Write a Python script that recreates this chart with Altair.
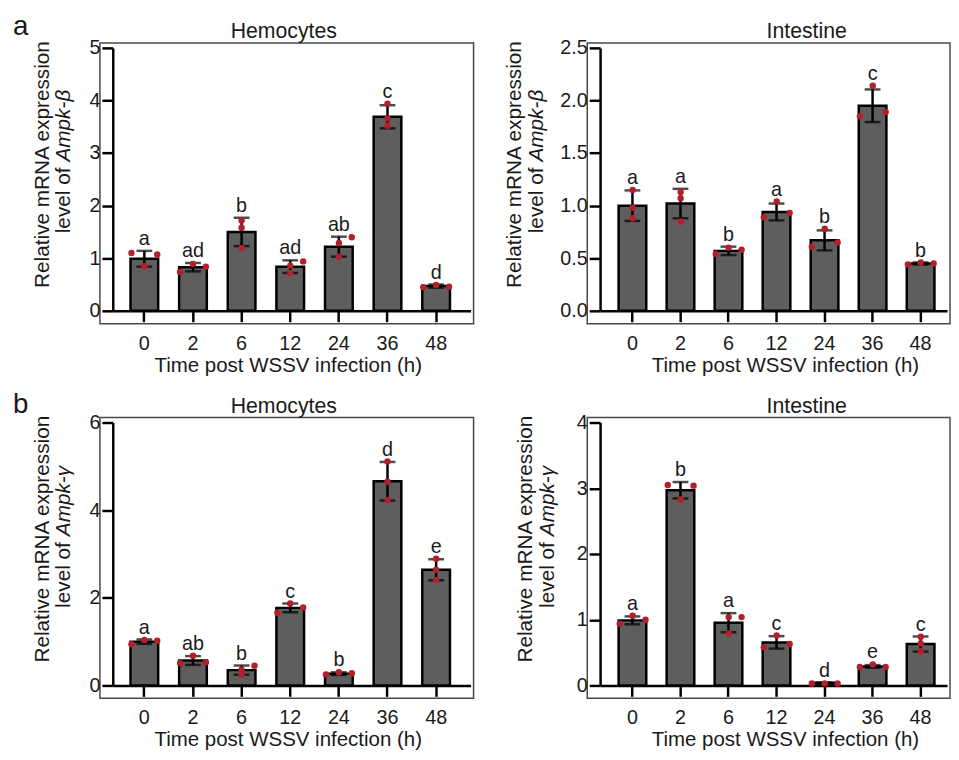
import altair as alt
import pandas as pd

FONT = "Liberation Sans"
TIMES = ["0", "2", "6", "12", "24", "36", "48"]

# ---- panel a, Hemocytes (Ampk-beta)
A_HEMO_MEAN = [0.99, 0.83, 1.50, 0.84, 1.22, 3.69, 0.47]
A_HEMO_SD = [0.15, 0.08, 0.27, 0.12, 0.19, 0.22, 0.03]
A_HEMO_PTS = [[1.10, 0.85, 1.07], [0.74, 0.89, 0.84], [1.72, 1.58, 1.19], [0.86, 0.72, 0.94],
              [1.29, 1.03, 1.40], [3.94, 3.66, 3.52], [0.45, 0.49, 0.46]]
A_HEMO_SIDE = ["LCR", "LCR", "CCC", "CCR", "CCR", "CCC", "LCR"]
A_HEMO_LET = ["a", "ad", "b", "ad", "ab", "c", "d"]

# ---- panel a, Intestine (Ampk-beta)
A_INT_MEAN = [1.00, 1.02, 0.57, 0.94, 0.67, 1.95, 0.45]
A_INT_SD = [0.145, 0.14, 0.04, 0.08, 0.095, 0.155, 0.01]
A_INT_PTS = [[1.15, 0.98, 0.88], [1.13, 1.07, 0.85], [0.54, 0.60, 0.58], [0.89, 1.04, 0.93],
             [0.61, 0.78, 0.65], [1.85, 2.14, 1.89], [0.44, 0.46, 0.45]]
A_INT_SIDE = ["CCC", "CCC", "LCR", "LCR", "LCR", "LCR", "LCR"]
A_INT_LET = ["a", "a", "b", "a", "b", "c", "b"]

# ---- panel b, Hemocytes (Ampk-gamma)
B_HEMO_MEAN = [1.00, 0.57, 0.35, 1.77, 0.27, 4.66, 2.64]
B_HEMO_SD = [0.05, 0.10, 0.105, 0.10, 0.03, 0.44, 0.24]
B_HEMO_PTS = [[0.94, 1.04, 1.02], [0.51, 0.68, 0.53], [0.36, 0.25, 0.45], [1.66, 1.87, 1.78],
              [0.25, 0.30, 0.28], [5.11, 4.65, 4.23], [2.89, 2.64, 2.41]]
B_HEMO_SIDE = ["LCR", "LCR", "CCR", "LCR", "LCR", "CCC", "CCC"]
B_HEMO_LET = ["a", "ab", "b", "c", "b", "d", "e"]

# ---- panel b, Intestine (Ampk-gamma)
B_INT_MEAN = [0.99, 2.97, 0.955, 0.655, 0.04, 0.29, 0.63]
B_INT_SD = [0.06, 0.125, 0.145, 0.095, 0.005, 0.02, 0.115]
B_INT_PTS = [[0.94, 1.06, 1.00], [3.05, 2.83, 3.04], [1.04, 0.79, 1.04], [0.58, 0.76, 0.63],
             [0.03, 0.03, 0.03], [0.28, 0.32, 0.28], [0.74, 0.64, 0.52]]
B_INT_SIDE = ["LCR", "LCR", "CCR", "LCR", "LCR", "LCR", "CCC"]
B_INT_LET = ["a", "b", "a", "c", "d", "e", "c"]

Y_LINE1 = "Relative mRNA expression"
Y_LINE2 = "level of"
GENES = ["Ampk-β", "Ampk-γ"]
TISSUES = ["Hemocytes", "Intestine"]
X_TITLE = "Time post WSSV infection (h)"

BAR_FILL = "#5e5e5e"
DOT = "#b3202a"
TXT = "#1a1a1a"
H = 284
TITLE_CY = 123
WORD_GAP = 6


def panel(title, mean, sd, pts, sides, letters, ymax, yvals, yfmt, gene,
          width, pad_outer, align, t1x, t2x, title_x, xtitle_x, tag=None, tag_y=-16):
    bars = pd.DataFrame({"t": TIMES, "mean": mean, "sd": sd, "letter": letters})
    bars["lo"] = bars["mean"] - bars["sd"]
    bars["hi"] = bars["mean"] + bars["sd"]
    bars["ltop"] = [max(h, max(p)) for h, p in zip(bars["hi"], pts)]
    rows = []
    for t, ps, ss in zip(TIMES, pts, sides):
        for v, s in zip(ps, ss):
            rows.append({"t": t, "v": v, "side": s})
    pdf = pd.DataFrame(rows)

    xaxis = alt.Axis(title=X_TITLE, labelAngle=0, offset=-13, labelPadding=12,
                     titlePadding=2, titleX=xtitle_x, titleFontSize=20.7)
    x = alt.X("t:N", sort=TIMES, axis=xaxis,
              scale=alt.Scale(range=[13, width - 3], paddingInner=0.39,
                              paddingOuter=pad_outer, align=align))
    yaxis = alt.Axis(title=None, values=yvals, format=yfmt, offset=-13, labelPadding=2)
    yscale = alt.Scale(domain=[0, ymax], range=[H - 13, 5], nice=False, zero=True)

    def Y(f):
        return alt.Y(f, type="quantitative", scale=yscale, axis=yaxis)

    bar = alt.Chart(bars).mark_bar(color=BAR_FILL, stroke="black", strokeWidth=2.5,
                                   width=28).encode(x=x, y=Y("mean"))
    rule = alt.Chart(bars).mark_rule(color="black", strokeWidth=2.5).encode(
        x=x, y=Y("lo"), y2="hi")
    cap_hi = alt.Chart(bars).mark_tick(color="black", size=16, thickness=2.5).encode(
        x=x, y=Y("hi"))
    cap_lo = alt.Chart(bars).mark_tick(color="black", size=16, thickness=2.5).encode(
        x=x, y=Y("lo"))
    dots = alt.Chart(pdf).mark_circle(color=DOT, size=42, opacity=1).encode(
        x=x, y=Y("v"),
        xOffset=alt.XOffset("side:N", scale=alt.Scale(type="point", domain=["L", "C", "R"],
                                                      padding=0.15)))
    lets = alt.Chart(bars).mark_text(font=FONT, fontSize=20, baseline="alphabetic",
                                     dy=-6, color=TXT).encode(
        x=x, y=Y("ltop"), text="letter:N")

    def label(s, **kw):
        return alt.Chart(pd.DataFrame({"s": [s]})).mark_text(font=FONT, color=TXT, **kw)

    t1 = label(Y_LINE1, fontSize=21, angle=270, align="center", baseline="middle").encode(
        x=alt.value(t1x), y=alt.value(TITLE_CY), text="s:N")
    t2a = label(Y_LINE2, fontSize=21, angle=270, align="right", baseline="middle").encode(
        x=alt.value(t2x), y=alt.value(TITLE_CY + WORD_GAP / 2), text="s:N")
    t2b = label(gene, fontSize=21, angle=270, align="left", baseline="middle",
                fontStyle="italic").encode(
        x=alt.value(t2x), y=alt.value(TITLE_CY - WORD_GAP / 2), text="s:N")
    ttl = label(title, fontSize=21.5, align="center", baseline="alphabetic").encode(
        x=alt.value(title_x), y=alt.value(-5), text="s:N")

    layers = [bar, rule, cap_hi, cap_lo, dots, lets, t1, t2a, t2b, ttl]
    if tag is not None:
        tg = label(tag, fontSize=28, align="left", baseline="alphabetic").encode(
            x=alt.value(-88), y=alt.value(tag_y), text="s:N")
        layers.append(tg)
    return alt.layer(*layers).properties(width=width, height=H)


pa1 = panel(TISSUES[0], A_HEMO_MEAN, A_HEMO_SD, A_HEMO_PTS, A_HEMO_SIDE, A_HEMO_LET,
            5, [0, 1, 2, 3, 4, 5], "d", GENES[0], 378, 0.374, 0.46, -58, -36, 186, 190,
            tag="a", tag_y=-8)
pa2 = panel(TISSUES[1], A_INT_MEAN, A_INT_SD, A_INT_PTS, A_INT_SIDE, A_INT_LET,
            2.5, [0, 0.5, 1.0, 1.5, 2.0, 2.5], ".1f", GENES[0], 367, 0.307, 0.6, -73, -51,
            222, 200)
pb1 = panel(TISSUES[0], B_HEMO_MEAN, B_HEMO_SD, B_HEMO_PTS, B_HEMO_SIDE, B_HEMO_LET,
            6, [0, 2, 4, 6], "d", GENES[1], 378, 0.374, 0.46, -58, -36, 186, 190,
            tag="b", tag_y=-5)
pb2 = panel(TISSUES[1], B_INT_MEAN, B_INT_SD, B_INT_PTS, B_INT_SIDE, B_INT_LET,
            4, [0, 1, 2, 3, 4], "d", GENES[1], 367, 0.307, 0.6, -62, -40, 222, 200)

row_a = alt.hconcat(pa1, pa2, spacing=29)
row_b = alt.hconcat(pb1, pb2, spacing=40)

chart = alt.vconcat(row_a, row_b, spacing=14).properties(
    padding={"left": 4, "top": 0, "right": 0, "bottom": 0}
).configure_view(
    stroke="#4d4646", strokeWidth=1.5
).configure_axis(
    domainColor="black", domainWidth=2.5, tickColor="black", tickWidth=2.5, tickSize=11,
    labelFont=FONT, labelFontSize=20, labelColor=TXT, grid=False,
    titleFont=FONT, titleFontSize=20, titleFontWeight="normal", titleColor=TXT
)

chart.save("out.html", embed_options={"renderer": "svg", "actions": False})
